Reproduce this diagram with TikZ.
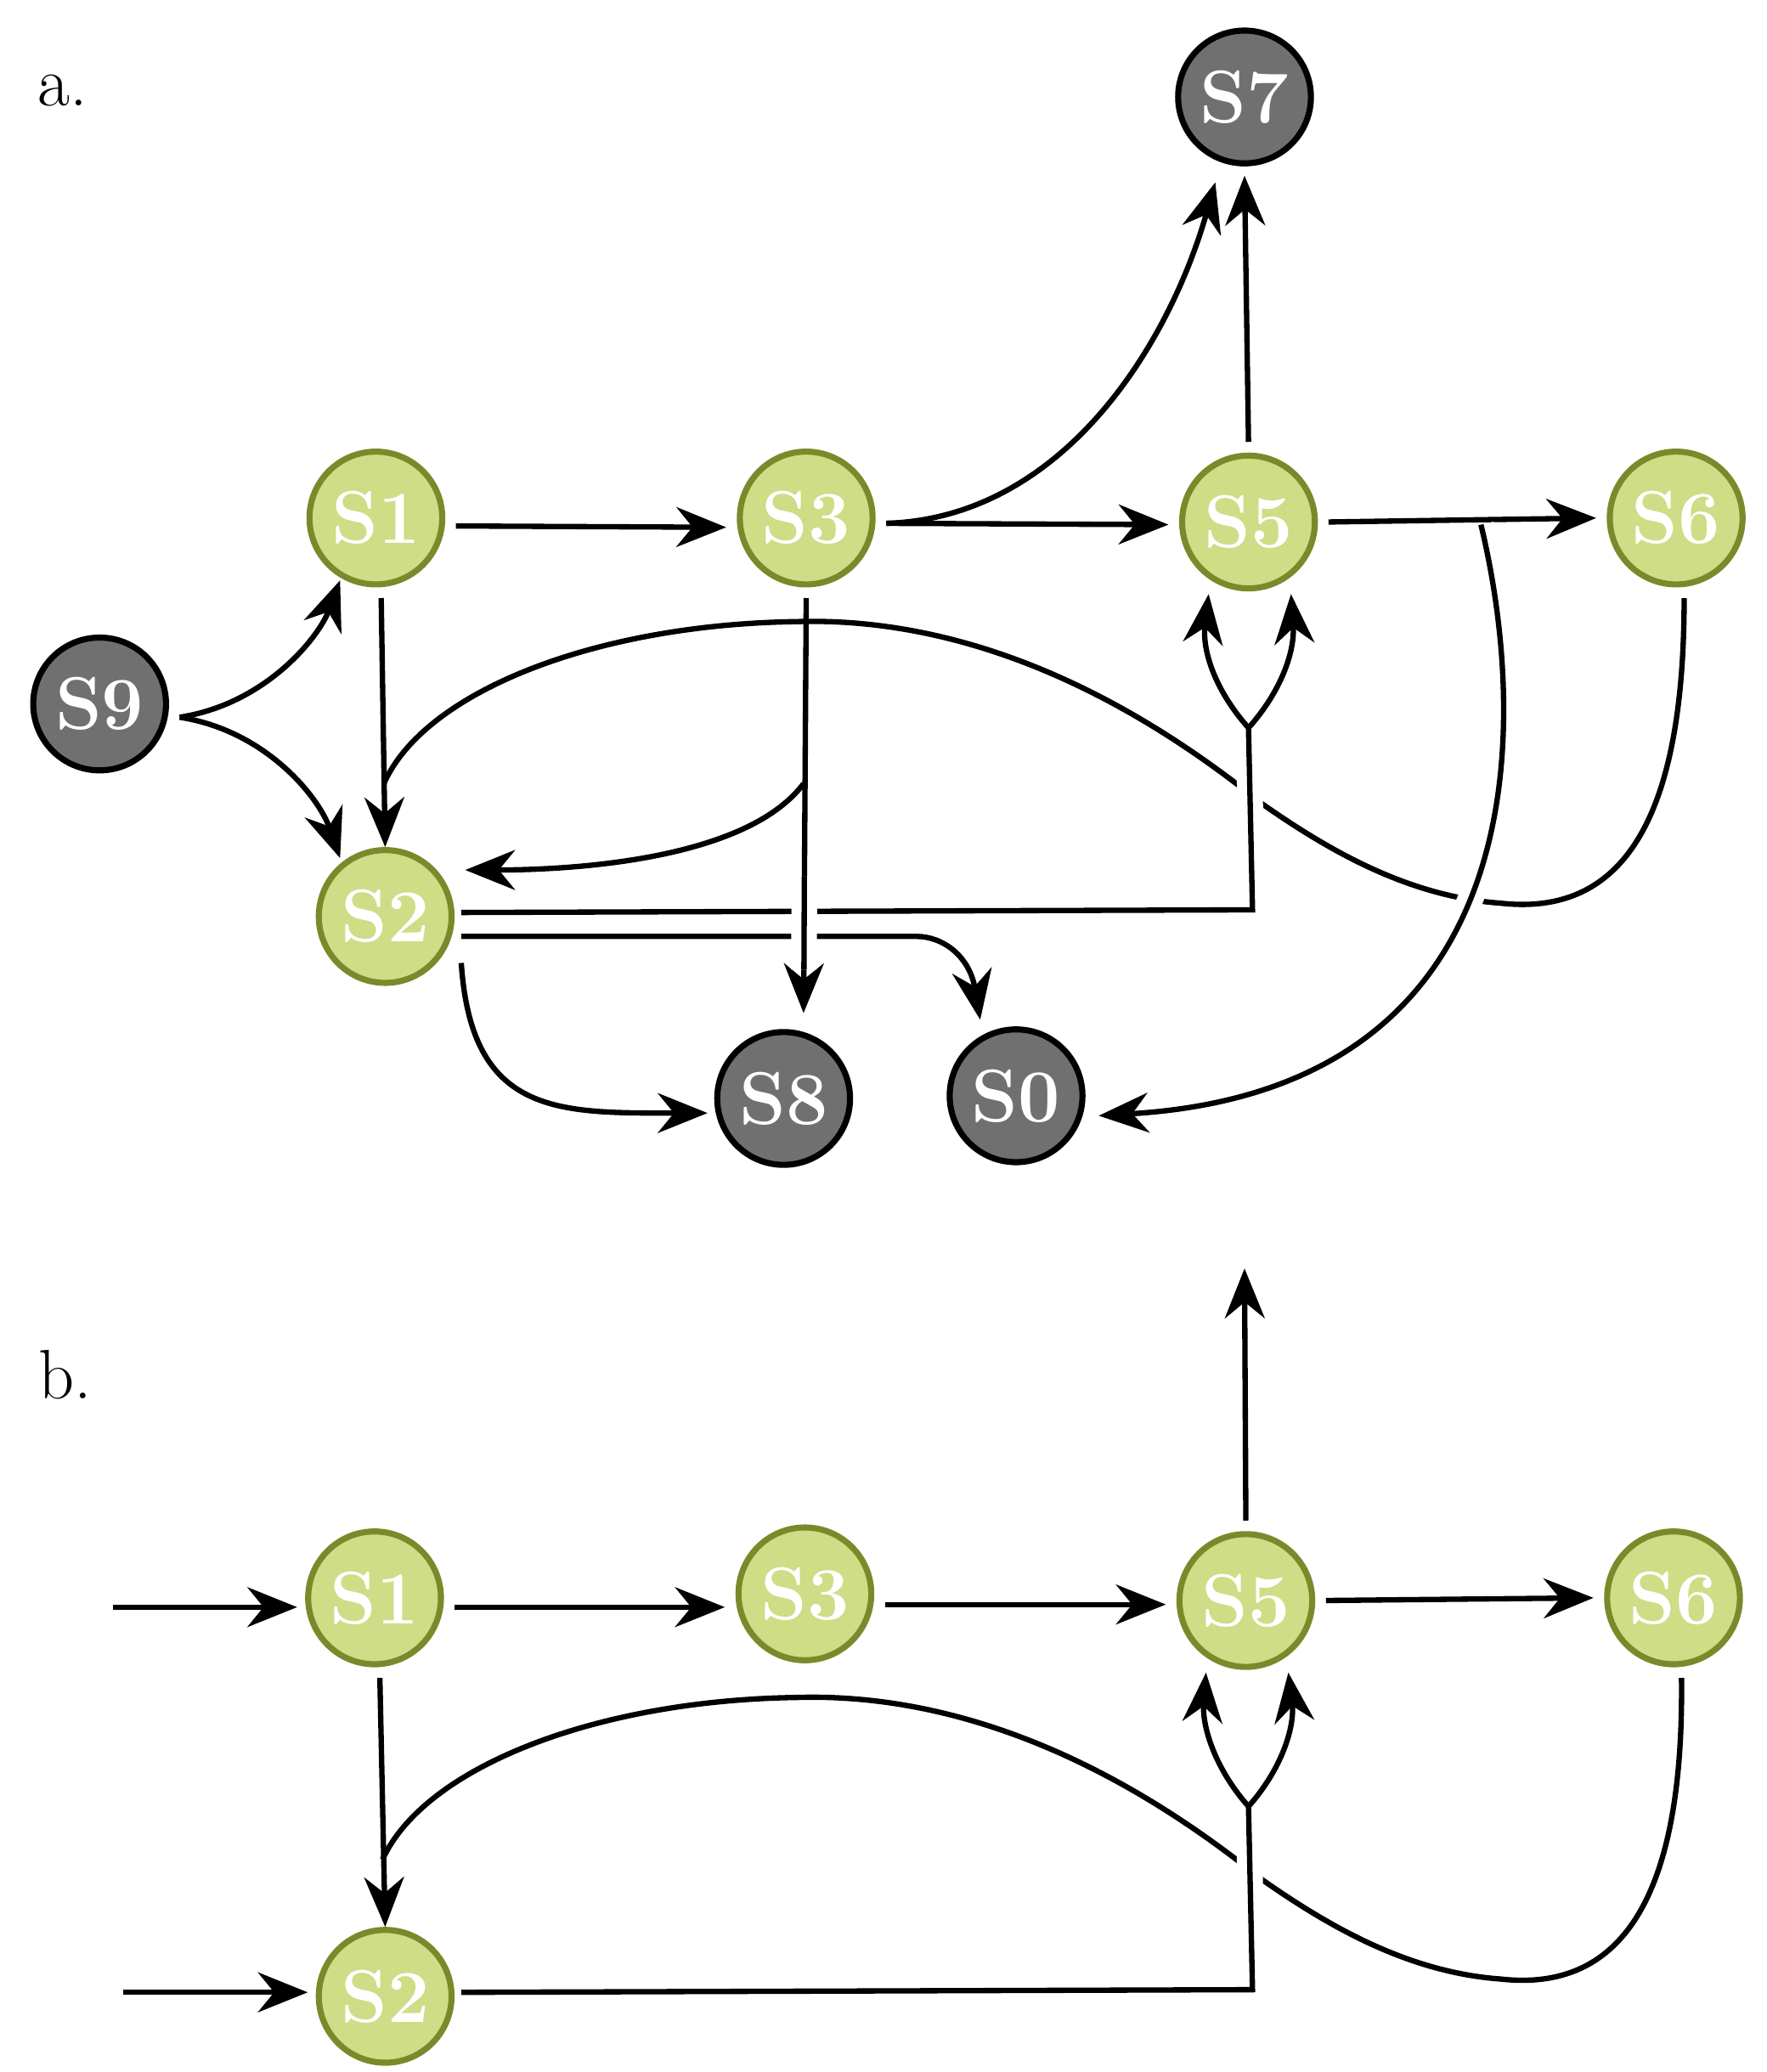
\documentclass[tikz,border=0pt]{standalone}
\usepackage{tikz}
\usetikzlibrary{arrows.meta, positioning}
\definecolor{leaf}{RGB}{206,221,134}
\definecolor{olive}{RGB}{122,138,42}
\definecolor{ash}{RGB}{112,112,112}
\tikzset{
live/.style={circle, minimum size=2cm, inner sep=0pt, fill=leaf, draw=olive, line width=2.6pt, text=white, font=\bfseries\fontsize{32}{36}\selectfont}, % green states
dead/.style={live, fill=ash, draw=black}, % grey states
edge/.style={line width=2.3pt, -{Stealth[length=0.75cm, width=0.6cm]}}, % directed edges
plain/.style={line width=2.3pt}, % edges without tip
over/.style={preaction={draw=white, line width=11pt}}, % cuts the line underneath
}
\begin{document}
\begin{tikzpicture}[x=0.02cm, y=-0.02cm]
        %% frame of the picture
        \useasboundingbox (0,0) rectangle (1330,1560);
        %% labels of the two panels
        \node[font=\fontsize{30}{34}\selectfont] (la) at (47,68) {a.};
        \node[font=\fontsize{30}{34}\selectfont] (lb) at (49,1035) {b.};
        %% panel a: states
        \node[dead] (s7) at (937,73) {S7};
        \node[live] (s1) at (283,390) {S1};
        \node[live] (s3) at (607,390) {S3};
        \node[live] (s5) at (940,393) {S5};
        \node[live] (s6) at (1262,390) {S6};
        \node[dead] (s9) at (75,530) {S9};
        \node[live] (s2) at (290,690) {S2};
        \node[dead] (s8) at (590,827) {S8};
        \node[dead] (s0) at (765,825) {S0};
        %% panel a: helper points
        \coordinate (fa) at (940,548);
        \coordinate (ca) at (943,685);
        \coordinate (ta) at (605,590);
        \coordinate (ua) at (1115,395);
        %% panel a: edges
        \draw[edge] ([shift={(8,6)}]s1.east) -- ([shift={(-8,7)}]s3.west);
        \draw[edge] ([shift={(8,4)}]s3.east) -- ([shift={(-8,2)}]s5.west);
        \draw[edge] ([shift={(8,0)}]s5.east) -- ([shift={(-8,0)}]s6.west);
        \draw[edge] ([shift={(0,-8)}]s5.north) -- ([shift={(0,7)}]s7.south);
        \draw[edge] ([shift={(8,4)}]s3.east) .. controls (800,390) and (880,260) .. ([shift={(-22,12)}]s7.south);
        \draw[edge] ([shift={(8,10)}]s9.east) .. controls (200,530) and (240,480) .. ([shift={(10,10)}]s1.south west);
        \draw[edge] ([shift={(8,10)}]s9.east) .. controls (200,550) and (240,600) .. ([shift={(3,-7)}]s2.north west);
        %% the long arc from S6 back to S2
        \draw[plain] ([shift={(6,8)}]s6.south) .. controls (1268,620) and (1220,690) .. (1130,680)
            .. controls (1060,675) and (1000,640) .. (950,605)
            .. controls (820,500) and (700,465) .. (600,468)
            .. controls (450,470) and (320,520) .. (289,590);
        \draw[edge] ([shift={(4,8)}]s1.south) -- (s2.north);
        %% S5 to S0 crosses the arc
        \draw[edge, over] (ua) .. controls (1150,540) and (1160,820) .. ([shift={(10,15)}]s0.east);
        \draw[edge] ([shift={(0,8)}]s3.south) -- ([shift={(15,-12)}]s8.north);
        \draw[edge] (ta) .. controls (560,650) and (420,655) .. ([shift={(8,-35)}]s2.east);
        %% S2 to the fork under S5
        \draw[plain, over] ([shift={(5,-3)}]s2.east) -- (ca) -- (fa);
        \draw[edge] (fa) .. controls (915,520) and (905,490) .. ([shift={(-30,2)}]s5.south);
        \draw[edge] (fa) .. controls (965,520) and (975,490) .. ([shift={(32,2)}]s5.south);
        \draw[edge, over] ([shift={(5,15)}]s2.east) -- (690,705) .. controls (710,705) and (730,720) .. ([shift={(-27,-5)}]s0.north);
        \draw[plain, over] (605.6,660) -- (605.3,730);
        \draw[edge] ([shift={(5,35)}]s2.east) .. controls (355,840) and (420,838) .. ([shift={(-5,11)}]s8.west);
        %% panel b: states
        \node[live] (t1) at (282,1203) {S1};
        \node[live] (t3) at (606,1200) {S3};
        \node[live] (t5) at (938,1205) {S5};
        \node[live] (t6) at (1260,1203) {S6};
        \node[live] (t2) at (290,1503) {S2};
        %% panel b: helper points
        \coordinate (in1) at (85,1210);
        \coordinate (in2) at (93,1500);
        \coordinate (out) at (937,955);
        \coordinate (fb) at (940,1360);
        \coordinate (cb) at (943,1498);
        %% panel b: edges
        \draw[edge] (in1) -- ([shift={(-6,7)}]t1.west);
        \draw[edge] (in2) -- ([shift={(-6,-3)}]t2.west);
        \draw[edge] ([shift={(8,7)}]t1.east) -- ([shift={(-8,10)}]t3.west);
        \draw[edge] ([shift={(8,8)}]t3.east) -- ([shift={(-8,3)}]t5.west);
        \draw[edge] ([shift={(8,0)}]t5.east) -- ([shift={(-8,0)}]t6.west);
        \draw[edge] ([shift={(0,-8)}]t5.north) -- (out);
        \draw[plain] ([shift={(6,8)}]t6.south) .. controls (1268,1430) and (1220,1500) .. (1130,1490)
            .. controls (1060,1485) and (1000,1450) .. (950,1415)
            .. controls (820,1310) and (700,1275) .. (600,1278)
            .. controls (450,1280) and (320,1330) .. (288,1400);
        \draw[edge] ([shift={(4,8)}]t1.south) -- (t2.north);
        \draw[plain, over] ([shift={(5,-3)}]t2.east) -- (cb) -- (fb);
        \draw[edge] (fb) .. controls (915,1332) and (905,1300) .. ([shift={(-30,2)}]t5.south);
        \draw[edge] (fb) .. controls (965,1332) and (975,1300) .. ([shift={(32,2)}]t5.south);
\end{tikzpicture}
\end{document}
